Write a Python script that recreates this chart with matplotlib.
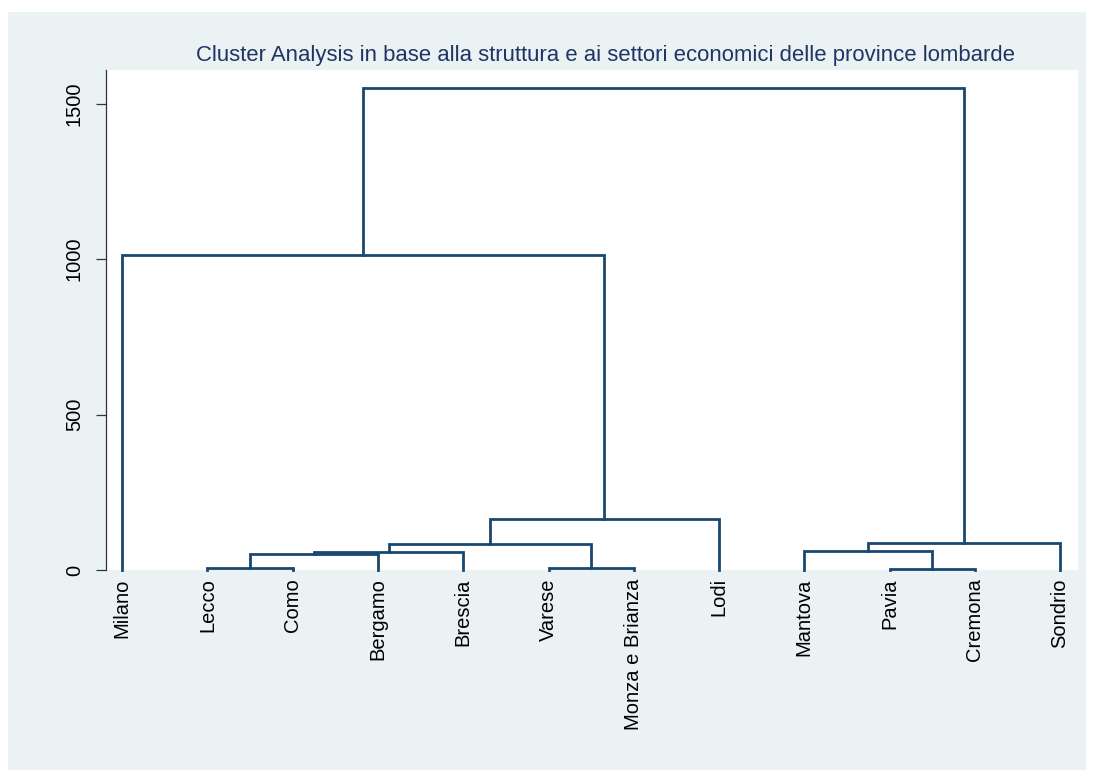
import matplotlib
matplotlib.use("Agg")
import matplotlib.pyplot as plt
from matplotlib.patches import Rectangle

plt.rcParams['font.family'] = ['Liberation Sans', 'DejaVu Sans']

# leaves in dendrogram order
provinces = ["Milano", "Lecco", "Como", "Bergamo", "Brescia", "Varese",
             "Monza e Brianza", "Lodi", "Mantova", "Pavia", "Cremona", "Sondrio"]

# merges: ids 0..11 are leaves, 12.. are the merges below, in order
merge_left = [1, 5, 9, 12, 15, 8, 16, 17, 18, 0, 21]
merge_right = [2, 6, 10, 3, 4, 14, 13, 11, 7, 20, 19]
merge_height = [6, 8, 3, 50, 59, 61, 83, 87, 164, 1014, 1551]

yticks = [0, 500, 1000, 1500]

line_col = "#1a476f"
bg_col = "#eaf2f3"

fig = plt.figure(figsize=(10.94, 7.74), dpi=100)
fig.patch.set_facecolor("white")
fig.patches.append(Rectangle((8 / 1094, 4 / 774), 1078 / 1094, 758 / 774,
                             transform=fig.transFigure, facecolor=bg_col,
                             edgecolor="none", zorder=-10))

ax = fig.add_axes([106 / 1094, 1 - 570 / 774, (1078 - 106) / 1094, 500 / 774])
ax.set_facecolor("white")

# x position and height of each node
xpos = {i: i + 1 for i in range(len(provinces))}
hgt = {i: 0 for i in range(len(provinces))}
for k, (a, b, h) in enumerate(zip(merge_left, merge_right, merge_height)):
    node = len(provinces) + k
    xa, xb = xpos[a], xpos[b]
    ax.plot([xa, xa, xb, xb], [hgt[a], h, h, hgt[b]], color=line_col,
            lw=2.0, solid_joinstyle="miter", clip_on=False)
    xpos[node] = (xa + xb) / 2
    hgt[node] = h

ax.set_xlim(0.81, 12.21)
ax.set_ylim(0, 1609)

ax.set_xticks(range(1, len(provinces) + 1))
ax.set_xticklabels(provinces, rotation=90, fontsize=14.5)
ax.tick_params(axis="x", length=0, pad=6)

ax.set_yticks(yticks)
ax.set_yticklabels([str(t) for t in yticks], rotation=90, va="center", fontsize=14.5)
ax.tick_params(axis="y", length=7, width=0.9, pad=9, color="#333333")

for s in ["top", "right", "bottom"]:
    ax.spines[s].set_visible(False)
ax.spines["left"].set_linewidth(0.9)
ax.spines["left"].set_color("#333333")

fig.text(605 / 1094, 1 - 56 / 774,
         "Cluster Analysis in base alla struttura e ai settori economici delle province lombarde",
         ha="center", va="center", fontsize=15.9, color="#1f3563")

fig.savefig("out.png", dpi=100, facecolor=fig.get_facecolor())
